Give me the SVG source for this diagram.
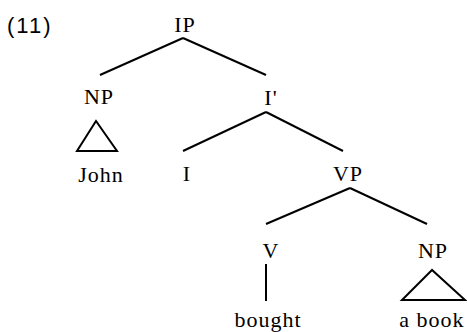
<svg xmlns="http://www.w3.org/2000/svg" width="467" height="332" viewBox="0 0 467 332">
<style>
.t{font-family:"Liberation Serif","Times New Roman",serif;font-size:22px;fill:#000;text-anchor:middle;letter-spacing:1px}
.n{font-family:"Liberation Sans",Arial,sans-serif;font-size:22px;fill:#000;letter-spacing:2px}
.e{stroke:#000;stroke-width:2;fill:none;stroke-linecap:butt}
</style>
<rect width="467" height="332" fill="#fff"/>
<text class="n" x="7" y="33">(11)</text>
<g id="IP"><text class="t" x="185" y="32">IP</text></g>
<g id="NP1"><text class="t" x="99" y="104">NP</text><polygon class="e" points="96,121 77,151 117,151"/></g>
<g id="John"><text class="t" x="101" y="182">John</text></g>
<g id="Ibar"><text class="t" x="271" y="105">I'</text></g>
<g id="I"><text class="t" x="187" y="181">I</text></g>
<g id="VP"><text class="t" x="348" y="181">VP</text></g>
<g id="V"><text class="t" x="271" y="258">V</text></g>
<g id="NP2"><text class="t" x="433" y="258">NP</text><polygon class="e" points="432,270 402,300 465,300"/></g>
<g id="bought"><text class="t" x="268" y="327">bought</text></g>
<g id="abook"><text class="t" x="432" y="327">a book</text></g>
<g id="edges">
<line class="e" x1="183" y1="38" x2="100" y2="75"/>
<line class="e" x1="183" y1="38" x2="266" y2="75"/>
<line class="e" x1="266" y1="112" x2="183" y2="151"/>
<line class="e" x1="266" y1="112" x2="343" y2="151"/>
<line class="e" x1="350" y1="188" x2="266" y2="224"/>
<line class="e" x1="350" y1="188" x2="427" y2="224"/>
<line class="e" x1="266" y1="264" x2="266" y2="301"/>
</g>
</svg>
